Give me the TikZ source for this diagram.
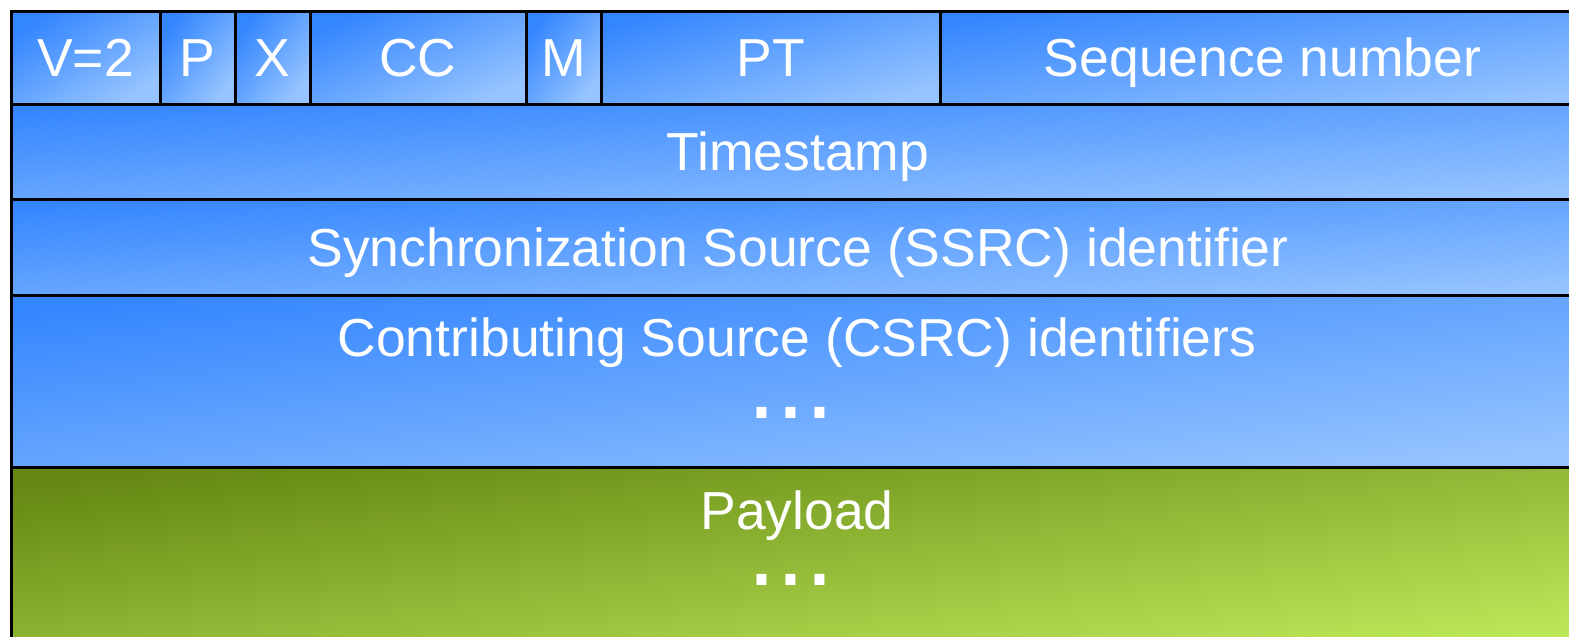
\documentclass[tikz,border=0pt]{standalone}
\usepackage{fontspec}
\setmainfont{Liberation Sans}
\newcommand\fieldfont{\fontsize{53.5}{58}\selectfont}
\newcommand\dotsfont{\fontsize{104}{110}\selectfont}
\definecolor{hdrdark}{RGB}{52,134,255}
\definecolor{hdrlight}{RGB}{150,196,255}
\definecolor{paydark}{RGB}{100,136,18}
\definecolor{paylight}{RGB}{192,234,92}
\tikzset{
  capcentre/.style={text height=38.3pt, text depth=0pt},
  field/.style={draw=black, line width=3pt,
    top color=hdrdark, bottom color=hdrlight,
    inner sep=0pt, outer sep=0pt, text=white, font=\fieldfont, capcentre},
  payfield/.style={field, top color=paydark, bottom color=paylight},
  label/.style={text=white, font=\fieldfont, inner sep=0pt, capcentre},
  ellip/.style={text=white, font=\dotsfont, inner sep=0pt,
    text height=12pt, text depth=0pt},
}
% place a field given left, top, right, bottom edges (in px);
% the gradient runs from the top-left to the bottom-right corner
\newcommand\rtpfield[7][field]{%
  \pgfmathsetmacro\fieldangle{atan2(#6-#4,#5-#3)}%
  \node[#1, shading angle=\fieldangle,
        minimum width={(#5-#3)*1pt}, minimum height={(#6-#4)*1pt}]
    (#2) at ({(#3+#5)/2},{(#4+#6)/2}) {#7};}
\begin{document}
\begin{tikzpicture}[x=1pt, y=-1pt]
  \useasboundingbox (0,0) rectangle (1569,637);
  % first word: V, P, X, CC, M, PT, sequence number
  \rtpfield{v}{11}{11}{160}{104}{V=2}
  \rtpfield{p}{160}{11}{235}{104}{P}
  \rtpfield{x}{235}{11}{310}{104}{X}
  \rtpfield{cc}{310}{11}{526}{104}{CC}
  \rtpfield{m}{526}{11}{601}{104}{M}
  \rtpfield{pt}{601}{11}{940}{104}{PT}
  \rtpfield{seq}{940}{11}{1585}{104}{Sequence number}
  % 32-bit words
  \rtpfield{ts}{11}{104}{1585}{199}{Timestamp}
  \rtpfield{ssrc}{11}{199}{1585}{295}{Synchronization Source (SSRC) identifier}
  \rtpfield{csrc}{11}{295}{1585}{467}{}
  \rtpfield[payfield]{payload}{11}{467}{1585}{660}{}
  % labels of the variable-length parts
  \node[label] (csrctext) at (797,337) {Contributing Source (CSRC) identifiers};
  \node[ellip, anchor=base] (csrcdots) at (791,418) {...};
  \node[label] (paytext) at (797,510) {Payload};
  \node[ellip, anchor=base] (paydots) at (791,585) {...};
\end{tikzpicture}
\end{document}
